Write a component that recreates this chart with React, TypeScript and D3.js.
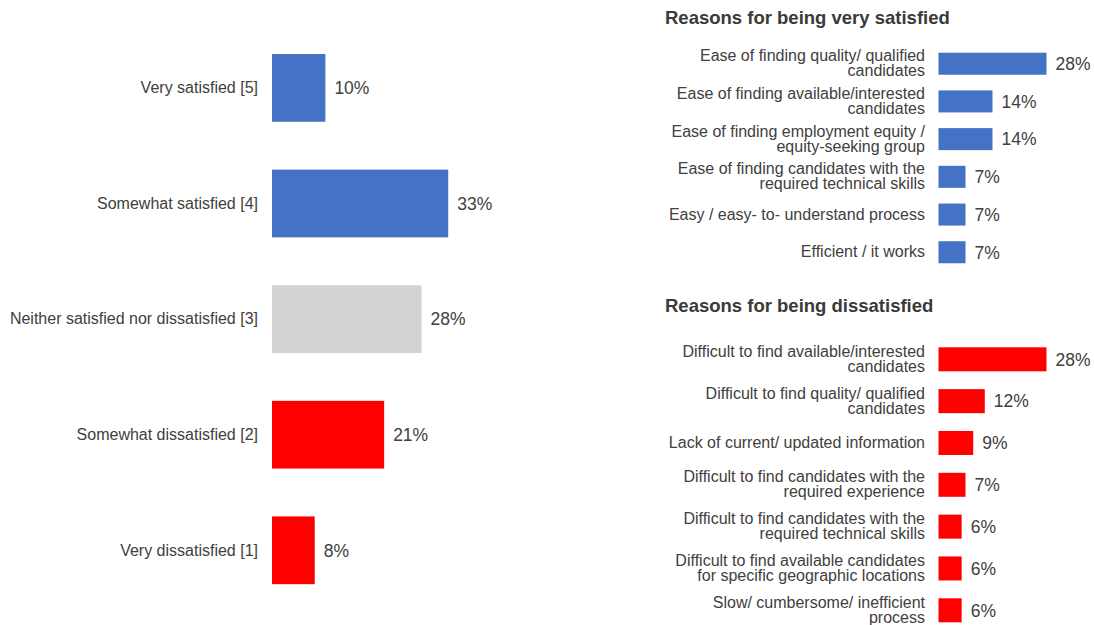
import React from "react";
import * as d3 from "d3";

const mainCategories = [
  "Very satisfied [5]",
  "Somewhat satisfied [4]",
  "Neither satisfied nor dissatisfied [3]",
  "Somewhat dissatisfied [2]",
  "Very dissatisfied [1]",
];
const mainValues = [10, 33, 28, 21, 8];
const mainColors = ["#4472C4", "#4472C4", "#D3D3D3", "#FF0000", "#FF0000"];

const satisfiedTitle = "Reasons for being very satisfied";
const satisfiedReasons = [
  "Ease of finding quality/ qualified\ncandidates",
  "Ease of finding available/interested\ncandidates",
  "Ease of finding employment equity /\nequity-seeking group",
  "Ease of finding candidates with the\nrequired technical skills",
  "Easy / easy- to- understand process",
  "Efficient / it works",
];
const satisfiedValues = [28, 14, 14, 7, 7, 7];

const dissatisfiedTitle = "Reasons for being dissatisfied";
const dissatisfiedReasons = [
  "Difficult to find available/interested\ncandidates",
  "Difficult to find quality/ qualified\ncandidates",
  "Lack of current/ updated information",
  "Difficult to find candidates with the\nrequired experience",
  "Difficult to find candidates with the\nrequired technical skills",
  "Difficult to find available candidates\nfor specific geographic locations",
  "Slow/ cumbersome/ inefficient\nprocess",
];
const dissatisfiedValues = [28, 12, 9, 7, 6, 6, 6];

const FONT = "'Liberation Sans', Arial, Helvetica, sans-serif";
const TEXT = "#404040";

function MultiLine({ x, y, text, size, lh }: { x: number; y: number; text: string; size: number; lh: number }) {
  const lines = text.split("\n");
  const n = lines.length;
  return (
    <text x={x} textAnchor="end" fontSize={size} fill={TEXT} fontFamily={FONT}>
      {lines.map((l, i) => (
        <tspan key={i} x={x} y={y + 5 + (i - (n - 1) / 2) * lh}>
          {l}
        </tspan>
      ))}
    </text>
  );
}

function ReasonPanel({
  title,
  titleY,
  labels,
  values,
  color,
  range,
  padding,
}: {
  title: string;
  titleY: number;
  labels: string[];
  values: number[];
  color: string;
  range: [number, number];
  padding: number;
}) {
  const y = d3.scaleBand<string>().domain(labels).range(range).paddingInner(padding).paddingOuter(padding / 2);
  const x = d3.scaleLinear().domain([0, 100]).range([938.5, 938.5 + 385.7]);
  return (
    <g>
      <text x={665} y={titleY} fontSize={18.5} fontWeight="bold" fill="#3a3a3a" fontFamily={FONT}>
        {title}
      </text>
      {labels.map((l, i) => {
        const cy = (y(l) as number) + y.bandwidth() / 2;
        return (
          <g key={l}>
            <MultiLine x={925} y={cy} text={l} size={16} lh={15} />
            <rect x={x(0)} y={y(l)} width={x(values[i]) - x(0)} height={y.bandwidth()} fill={color} />
            <text x={x(values[i]) + 9} y={cy} dy="0.36em" fontSize={17.5} fill={TEXT} fontFamily={FONT}>
              {values[i]}%
            </text>
          </g>
        );
      })}
    </g>
  );
}

export default function App() {
  const yMain = d3
    .scaleBand<string>()
    .domain(mainCategories)
    .range([30.1, 608.1])
    .paddingInner(0.414)
    .paddingOuter(0.207);
  const xMain = d3.scaleLinear().domain([0, 100]).range([272, 272 + 534]);

  return (
    <svg width={1094} height={625} style={{ position: "absolute", left: 0, top: 0, background: "#fff" }}>
      <rect width={1094} height={625} fill="#fff" />
      {mainCategories.map((c, i) => {
        const cy = (yMain(c) as number) + yMain.bandwidth() / 2;
        return (
          <g key={c}>
            <text x={258} y={cy} dy="0.33em" textAnchor="end" fontSize={16} fill={TEXT} fontFamily={FONT}>
              {c}
            </text>
            <rect
              x={xMain(0)}
              y={yMain(c)}
              width={xMain(mainValues[i]) - xMain(0)}
              height={yMain.bandwidth()}
              fill={mainColors[i]}
            />
            <text x={xMain(mainValues[i]) + 9} y={cy} dy="0.36em" fontSize={17.5} fill={TEXT} fontFamily={FONT}>
              {mainValues[i]}%
            </text>
          </g>
        );
      })}
      <ReasonPanel
        title={satisfiedTitle}
        titleY={24}
        labels={satisfiedReasons}
        values={satisfiedValues}
        color="#4472C4"
        range={[44.86, 271.1]}
        padding={0.416}
      />
      <ReasonPanel
        title={dissatisfiedTitle}
        titleY={311.7}
        labels={dissatisfiedReasons}
        values={dissatisfiedValues}
        color="#FF0000"
        range={[338.4, 631.2]}
        padding={0.426}
      />
    </svg>
  );
}
